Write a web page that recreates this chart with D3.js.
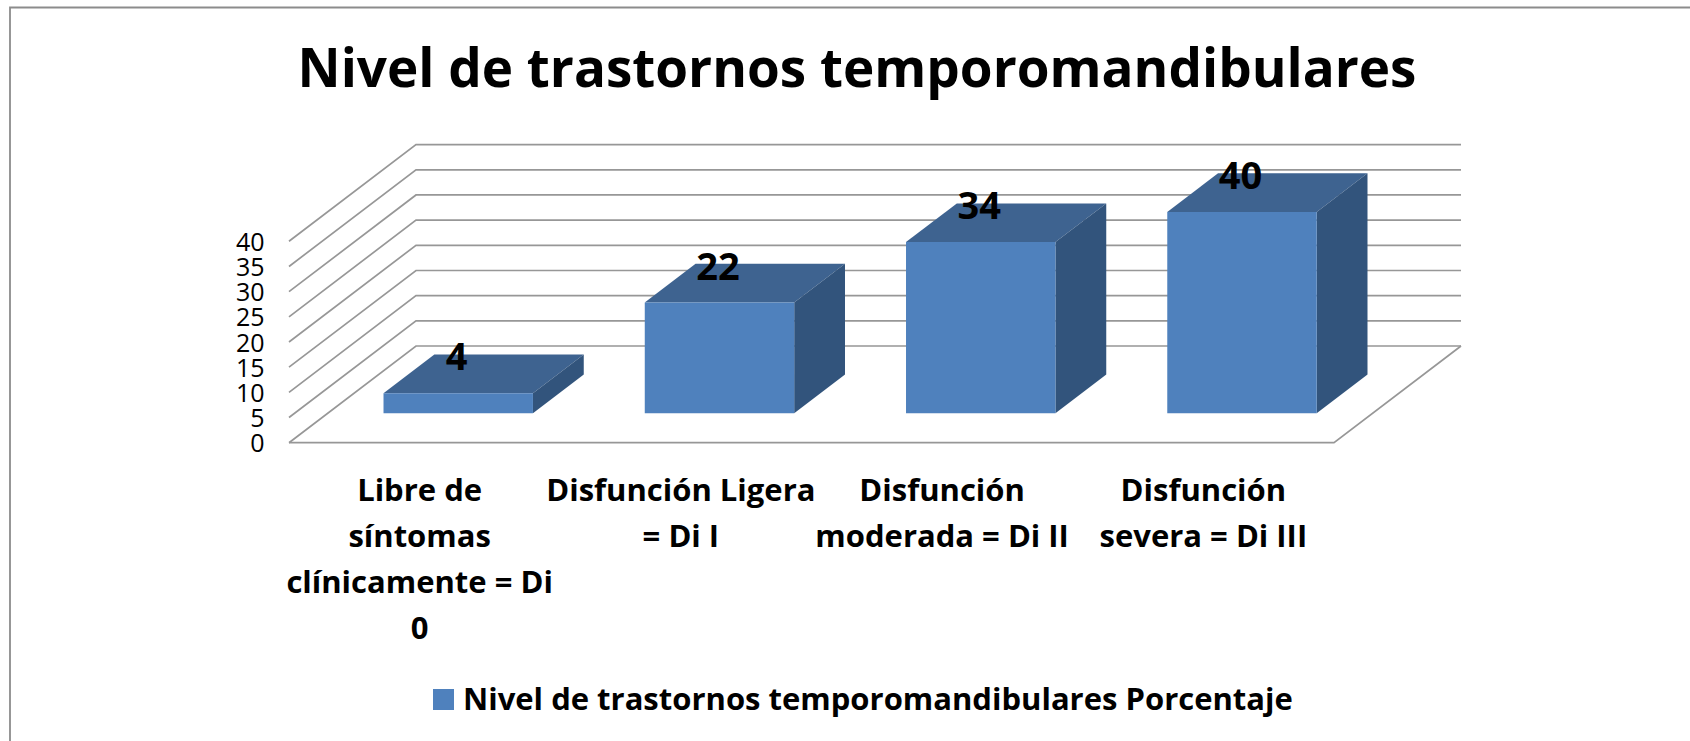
<!DOCTYPE html>
<html><head><meta charset="utf-8">
<script src="https://cdn.jsdelivr.net/npm/d3@7"></script>
<style>html,body{margin:0;background:#fff}svg{display:block}text{font-family:"Open Sans",sans-serif;fill:#000}</style>
</head><body><svg id="c" width="1690" height="741"></svg>
<script>
const chartTitle = "Nivel de trastornos temporomandibulares";
const seriesName = "Nivel de trastornos temporomandibulares Porcentaje";
const categories = ["Di 0","Di I","Di II","Di III"];
const categoryLines = [
  ["Libre de","síntomas","clínicamente = Di","0"],
  ["Disfunción Ligera","= Di I"],
  ["Disfunción","moderada = Di II"],
  ["Disfunción","severa = Di III"]
];
const values = [4,22,34,40];
const yTicks = [0,5,10,15,20,25,30,35,40];

const svg = d3.select("#c");
const x = d3.scaleBand().domain(categories).range([289,1334]).paddingInner(0).paddingOuter(0);
const y = d3.scaleLinear().domain([0,40]).range([442.7,241.3]);
// depth axis: 0 = front of the floor, 1 = back wall
const dx = d3.scaleLinear().domain([0,1]).range([0,127]);
const dy = d3.scaleLinear().domain([0,1]).range([0,-96.7]);
const barFrac = 0.572, zFront = 0.304, zBack = 0.704;
const P = (px,v,z) => [px+dx(z), y(v)+dy(z)];
const poly = pts => pts.map(p=>p.join(",")).join(" ");

// frame
svg.append("path").attr("d","M10,741V7.5H1690").attr("fill","none").attr("stroke","#8c8c8c").attr("stroke-width",1.8);

svg.append("text").attr("x",857).attr("y",87).attr("text-anchor","middle")
  .attr("font-size",53).attr("font-weight",700).text(chartTitle);

// walls
const grid = svg.append("g").attr("fill","none").attr("stroke","#979797").attr("stroke-width",1.7);
yTicks.forEach(t=>{
  const a=P(x.range()[0],t,0), b=P(x.range()[0],t,1), c=P(x.range()[1],t,1);
  grid.append("path").attr("d",`M${a}L${b}L${c}`);
});
const fr=P(x.range()[1],0,0), bk=P(x.range()[1],0,1), fl=P(x.range()[0],0,0);
grid.append("path").attr("d",`M${fl}L${fr}L${bk}`);

// y axis
const axis = d3.axisLeft(y).tickValues(yTicks).tickSize(0).tickPadding(0);
const ag = svg.append("g").attr("transform","translate(264.5,0)").call(axis);
ag.select(".domain").remove();
ag.selectAll("text").attr("font-size",25).attr("font-family",'"Open Sans",sans-serif').attr("dy","0.36em");

// bars
const bars = svg.append("g");
values.forEach((v,i)=>{
  const w = x.bandwidth()*barFrac;
  const l = x(categories[i])+(x.bandwidth()-w)/2, r=l+w;
  bars.append("polygon").attr("fill","#3e6390").attr("points",poly([P(l,v,zFront),P(r,v,zFront),P(r,v,zBack),P(l,v,zBack)]));
  bars.append("polygon").attr("fill","#32547c").attr("points",poly([P(r,0,zFront),P(r,v,zFront),P(r,v,zBack),P(r,0,zBack)]));
  bars.append("polygon").attr("fill","#4f81bd").attr("points",poly([P(l,0,zFront),P(r,0,zFront),P(r,v,zFront),P(l,v,zFront)]));
  const cx=(l+r)/2+dx(zFront);
  svg.append("text").attr("x",cx-1.5).attr("y",P(l,v,zBack)[1]+2).attr("dy","0.36em")
    .attr("text-anchor","middle").attr("font-size",38).attr("font-weight",700).text(v);
});

// category labels
categoryLines.forEach((lines,i)=>{
  const cx=x(categories[i])+x.bandwidth()/2;
  lines.forEach((s,j)=>{
    svg.append("text").attr("x",cx).attr("y",501+j*46).attr("text-anchor","middle")
      .attr("font-size",31).attr("font-weight",700).text(s);
  });
});

// legend
svg.append("rect").attr("x",433).attr("y",689).attr("width",21).attr("height",21).attr("fill","#4f81bd");
svg.append("text").attr("x",463).attr("y",710).attr("font-size",31).attr("font-weight",700).text(seriesName);
</script></body></html>
